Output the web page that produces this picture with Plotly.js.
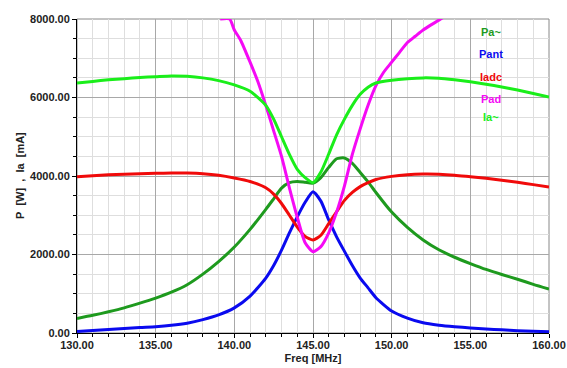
<!DOCTYPE html>
<html>
<head>
<meta charset="utf-8">
<script src="https://cdn.plot.ly/plotly-3.0.1.min.js"></script>
<style>html,body{margin:0;padding:0;background:#fff;}#chart{width:567px;height:368px;}</style>
</head>
<body>
<div id="chart"></div>
<script>
var freq = [130,131,132,133,134,135,136,137,138,139,140,141,142,142.5,143,143.5,144,144.5,145,145.5,146,146.5,147,147.5,148,148.5,149,150,151,152,153,154,155,156,157,158,159,160];
var paAc = [370,450,540,640,760,890,1040,1230,1500,1820,2190,2640,3150,3420,3690,3830,3860,3840,3820,3960,4220,4440,4460,4320,4090,3850,3580,3080,2690,2370,2120,1930,1770,1620,1490,1370,1240,1120];
var pant = [40,65,90,115,140,160,195,250,340,460,640,940,1400,1720,2110,2550,2960,3330,3600,3360,2880,2450,2080,1720,1400,1150,900,560,380,260,200,160,130,100,80,60,45,30];
var iadc = [3980,4005,4030,4045,4060,4070,4075,4075,4060,4020,3950,3860,3700,3540,3300,3000,2700,2460,2370,2490,2790,3090,3380,3580,3730,3830,3910,3990,4035,4050,4045,4020,3980,3940,3890,3840,3780,3720];
var iaAc = [6370,6410,6450,6480,6510,6530,6550,6540,6500,6430,6320,6160,5800,5450,5000,4550,4170,3960,3830,4100,4560,5050,5450,5800,6080,6260,6370,6440,6480,6500,6490,6450,6400,6340,6270,6190,6100,6010];
var padFreq = [139.1,139.7,140,140.4,141,141.5,142,142.5,143,143.5,144,144.5,145,145.5,146,146.5,147,147.5,148,148.5,149,149.5,150,150.5,151,151.5,152,152.5,153,153.5];
var pad = [8000,8000,7720,7460,6900,6400,5800,5150,4500,3700,2950,2300,2070,2200,2550,3080,3750,4550,5200,5800,6300,6650,6900,7150,7400,7560,7720,7850,7970,8100];

var seriesNames = ['Pa~','Pant','Iadc','Pad','Ia~'];
var colors = ['#1e9a1e','#0a0aef','#f00a0a','#f50af5','#1aee1a'];
var yTitle = 'P&nbsp;&nbsp;[W]&nbsp;&nbsp;,&nbsp;&nbsp;Ia&nbsp;&nbsp;[mA]';
var xTitle = 'Freq [MHz]';

var traces = [
  {x: freq, y: paAc, name: seriesNames[0], line: {color: colors[0]}},
  {x: freq, y: pant, name: seriesNames[1], line: {color: colors[1]}},
  {x: freq, y: iadc, name: seriesNames[2], line: {color: colors[2]}},
  {x: padFreq, y: pad, name: seriesNames[3], line: {color: colors[3]}},
  {x: freq, y: iaAc, name: seriesNames[4], line: {color: colors[4]}}
];
traces.forEach(function(t){ t.type='scatter'; t.mode='lines'; t.line.width=3; t.line.shape='spline'; t.line.smoothing=0.6; t.hoverinfo='skip'; });

var legendY = [7670, 7110, 6520, 5960, 5500];
var annotations = seriesNames.map(function(n,i){
  return {x: 156.3, y: legendY[i], xref:'x', yref:'y', text: n, showarrow:false,
    font:{family:'Liberation Sans, Arial, sans-serif', size:11, color: colors[i], weight:'bold'}};
});
annotations.push({x: 0, y: 0.5, xref:'paper', yref:'paper', xanchor:'center', yanchor:'middle', xshift:-57,
  textangle:-90, text: yTitle, showarrow:false,
  font:{family:'Liberation Sans, Arial, sans-serif', size:11, color:'#222', weight:'bold'}});

var layout = {
  width: 567, height: 368,
  margin: {l: 77, r: 18, t: 19, b: 35},
  paper_bgcolor: '#ffffff', plot_bgcolor: '#ffffff',
  showlegend: false,
  font: {family: 'Liberation Sans, Arial, sans-serif', size: 11, color: '#222'},
  xaxis: {
    range: [130,160], dtick: 5, tick0: 130, tickformat: '.2f',
    showgrid: true, gridcolor: '#a8a8a8', gridwidth: 1,
    showline: true, linecolor: '#000', linewidth: 1,
    ticks: 'outside', ticklen: 4, tickcolor: '#000', ticklabelstandoff: -2,
    tickfont: {size: 11, weight: 'bold', color: '#222'},
    minor: {dtick: 1, showgrid: true, gridcolor: '#dedede', ticks: 'outside', ticklen: 3, tickcolor: '#000'},
    zeroline: false,
    title: {text: xTitle, font: {size: 11, weight: 'bold', color: '#222'}, standoff: 4}
  },
  yaxis: {
    range: [0,8000], dtick: 2000, tick0: 0, tickformat: '.2f',
    showgrid: true, gridcolor: '#a8a8a8', gridwidth: 1,
    showline: true, linecolor: '#000', linewidth: 1,
    ticks: 'outside', ticklen: 4, tickcolor: '#000',
    tickfont: {size: 11, weight: 'bold', color: '#222'},
    minor: {dtick: 500, showgrid: true, gridcolor: '#dedede', ticks: 'outside', ticklen: 3, tickcolor: '#000'},
    zeroline: false
  },
  shapes: [{type:'rect', xref:'paper', yref:'paper', x0:0, x1:1, y0:0, y1:1, line:{color:'#888', width:1}, layer:'below'}],
  annotations: annotations
};

Plotly.newPlot('chart', traces, layout, {staticPlot: true, displayModeBar: false});
</script>
</body>
</html>
